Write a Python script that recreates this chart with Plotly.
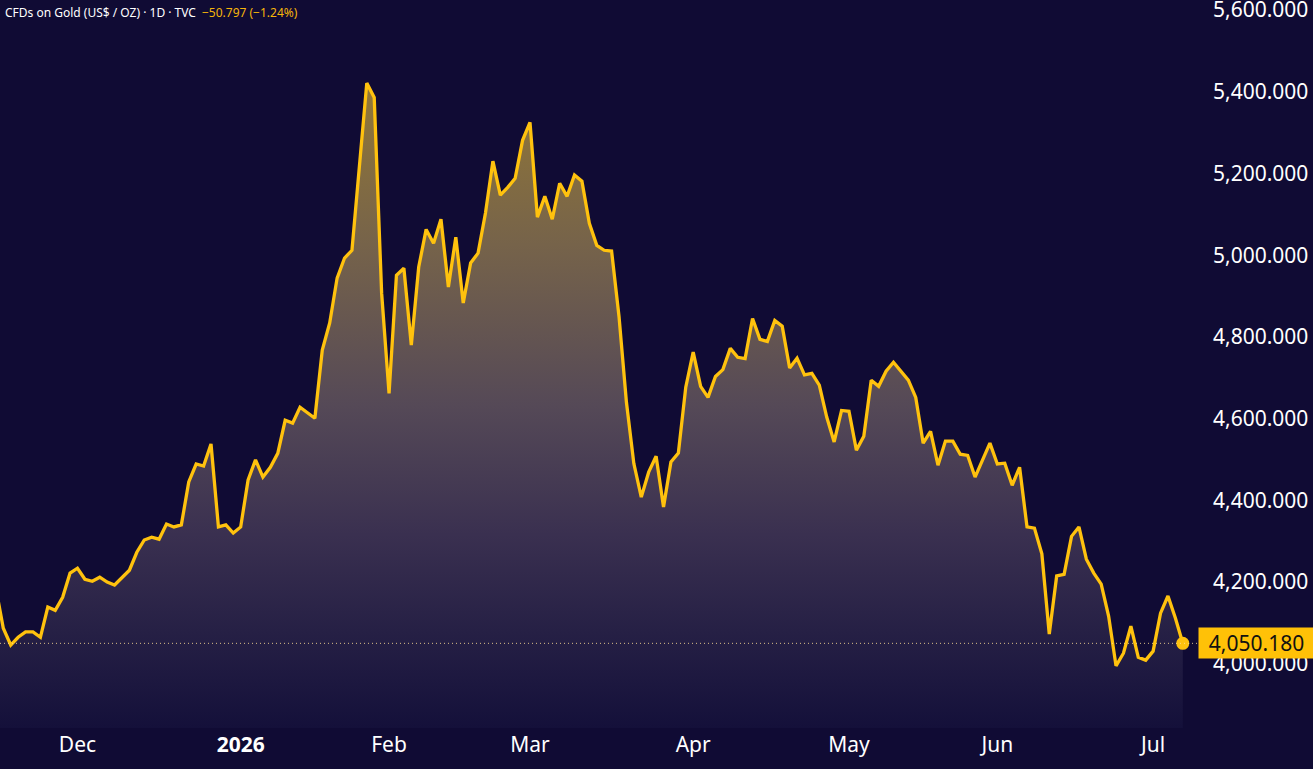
import pandas as pd
import plotly.graph_objects as go

# ---- data -------------------------------------------------------------
holidays = ["2025-11-27", "2025-12-25", "2026-01-01", "2026-01-19", "2026-02-16",
            "2026-04-03", "2026-05-25", "2026-06-19"]
first_day = "2025-11-13"
last_day = "2026-07-07"

prices = [
    4185,
    4087, 4046, 4065, 4078, 4078, 4065, 4139, 4131, 4163, 4222,
    4234, 4207, 4202, 4212, 4200, 4193, 4212, 4229, 4273, 4303,
    4310, 4305, 4342, 4335, 4340, 4445, 4489, 4484, 4538, 4335,
    4340, 4320, 4335, 4450, 4499, 4457, 4481, 4515, 4596, 4589,
    4628, 4615, 4601, 4768, 4834, 4944, 4993, 5012, 5215, 5421,
    5386, 4907, 4662, 4951, 4968, 4780, 4971, 5063, 5029, 5088,
    4922, 5044, 4883, 4981, 5005, 5103, 5230, 5147, 5166, 5188,
    5281, 5325, 5093, 5144, 5088, 5176, 5144, 5196, 5181, 5078,
    5024, 5012, 5010, 4850, 4640, 4490, 4408, 4469, 4508, 4384,
    4494, 4516, 4677, 4763, 4679, 4652, 4703, 4720, 4772, 4750,
    4747, 4845, 4794, 4789, 4840, 4826, 4724, 4748, 4707, 4711,
    4682, 4604, 4543, 4620, 4618, 4523, 4557, 4694, 4679, 4716,
    4738, 4716, 4694, 4652, 4540, 4569, 4486, 4545, 4545, 4513,
    4510, 4457, 4500, 4540, 4489, 4491, 4437, 4481, 4335, 4332,
    4269, 4073, 4215, 4219, 4312, 4335, 4256, 4222, 4195, 4117,
    3995, 4026, 4092, 4016, 4009, 4031, 4124, 4166, 4112, 4050.18,
]

month_ticks = ["2025-12-01", "2026-01-02", "2026-02-02", "2026-03-02",
               "2026-04-01", "2026-05-01", "2026-06-01", "2026-07-01"]
month_labels = ["Dec", "<b>2026</b>", "Feb", "Mar", "Apr", "May", "Jun", "Jul"]

price_ticks = [4000, 4200, 4400, 4600, 4800, 5000, 5200, 5400, 5600]
title_text = "CFDs on Gold (US$ / OZ) · 1D · TVC"
change_text = "−50.797 (−1.24%)"
last_label = "4,050.180"

# trading-day calendar (categories)
days = pd.bdate_range(first_day, last_day)
days = [d.strftime("%Y-%m-%d") for d in days if d.strftime("%Y-%m-%d") not in holidays]
assert len(days) == len(prices), (len(days), len(prices))

# ---- style ------------------------------------------------------------
BG = "#100b34"
GOLD = "#FFC20E"
FONT = "Noto Sans"

fig = go.Figure()
fig.add_trace(go.Scatter(
    x=days, y=prices, mode="lines",
    line=dict(color=GOLD, width=3.3),
    fill="tozeroy",
    fillgradient=dict(
        type="vertical",
        start=3843, stop=5420,
        colorscale=[
            [0.0, "#14103a"],
            [0.15, "#262045"],
            [0.30, "#3a3050"],
            [0.50, "#554957"],
            [0.75, "#76634a"],
            [1.0, "#937836"],
        ],
    ),
    hoverinfo="skip", showlegend=False,
))
fig.add_trace(go.Scatter(
    x=[days[-1]], y=[prices[-1]], mode="markers",
    marker=dict(color=GOLD, size=13),
    hoverinfo="skip", showlegend=False,
))

fig.add_shape(type="line", xref="paper", x0=0, x1=1, yref="y",
              y0=prices[-1], y1=prices[-1],
              line=dict(color="rgba(255,225,150,0.85)", width=1, dash="1px,3px"),
              layer="above")

fig.add_annotation(xref="paper", x=1, xanchor="left", yref="y", y=prices[-1],
                   yanchor="middle", text=last_label, showarrow=False,
                   bgcolor="#FFC107", width=111, height=26, borderpad=2,
                   align="center", font=dict(family=FONT, size=21, color="#111111"))

fig.add_annotation(xref="paper", x=0, xanchor="left", xshift=3, yref="paper", y=1,
                   yanchor="top", yshift=-2, text=title_text, showarrow=False,
                   font=dict(family=FONT, size=12, color="#ffffff"))
fig.add_annotation(xref="paper", x=0, xanchor="left", xshift=200, yref="paper", y=1,
                   yanchor="top", yshift=-2, text=change_text, showarrow=False,
                   font=dict(family=FONT, size=12, color="#F5B50A"))

fig.update_layout(
    width=1313, height=769,
    paper_bgcolor=BG, plot_bgcolor=BG,
    margin=dict(l=0, r=115, t=0, b=41, autoexpand=False),
    font=dict(family=FONT, color="#ffffff"),
    xaxis=dict(type="category", categoryorder="trace", range=[0.555, 162.05],
               tickvals=month_ticks, ticktext=month_labels, automargin=False,
               showgrid=False, zeroline=False, showline=False, ticks="",
               tickfont=dict(family=FONT, size=21, color="#ffffff"),
               ticklabelstandoff=2),
    yaxis=dict(side="right", range=[3843, 5624.4], tickvals=price_ticks,
               tickformat=",.3f", showgrid=False, zeroline=False, showline=False,
               ticks="", ticklabelstandoff=14, ticklabeloverflow="allow",
               automargin=False,
               tickfont=dict(family=FONT, size=21, color="#ffffff")),
)

fig.write_html("out.html")
